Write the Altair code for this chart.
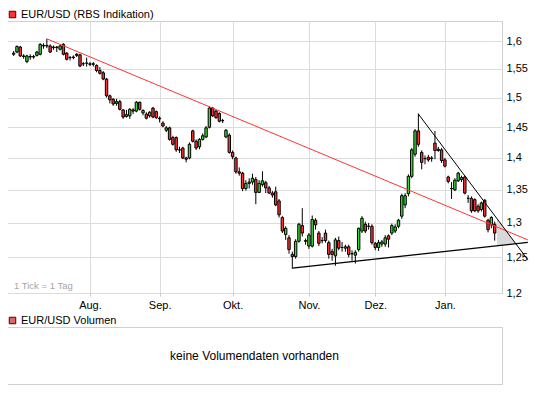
import json
import altair as alt
import pandas as pd

# ---------------- data ----------------
# one candle per trading day, index 0 = 1 July 2008 ... 145 = 23 Jan 2009
OPEN = [1.576, 1.580, 1.589, 1.573, 1.563, 1.572, 1.571, 1.574, 1.576, 1.591,
        1.591, 1.591, 1.588, 1.589, 1.585, 1.594, 1.578, 1.570, 1.570, 1.576,
        1.575, 1.559, 1.560, 1.559, 1.558, 1.556, 1.547, 1.543, 1.532, 1.503,
        1.497, 1.490, 1.493, 1.479, 1.468, 1.469, 1.479, 1.477, 1.492, 1.474,
        1.472, 1.469, 1.482, 1.476, 1.465, 1.457, 1.445, 1.449, 1.433, 1.433,
        1.413, 1.416, 1.400, 1.400, 1.444, 1.427, 1.418, 1.430, 1.434, 1.450,
        1.482, 1.477, 1.473, 1.461, 1.434, 1.437, 1.409, 1.400, 1.378, 1.376,
        1.352, 1.360, 1.362, 1.366, 1.346, 1.358, 1.361, 1.353, 1.345, 1.347,
        1.333, 1.308, 1.283, 1.278, 1.254, 1.251, 1.273, 1.296, 1.274, 1.266,
        1.266, 1.304, 1.285, 1.274, 1.285, 1.271, 1.258, 1.252, 1.274, 1.264,
        1.263, 1.265, 1.255, 1.253, 1.261, 1.288, 1.298, 1.295, 1.295, 1.270,
        1.264, 1.269, 1.269, 1.281, 1.285, 1.288, 1.295, 1.310, 1.327, 1.344,
        1.371, 1.406, 1.444, 1.409, 1.399, 1.401, 1.399, 1.424, 1.414, 1.413,
        1.397, 1.370, 1.352, 1.350, 1.364, 1.366, 1.370, 1.337, 1.337, 1.335,
        1.325, 1.320, 1.334, 1.304, 1.297, 1.298]
HIGH = [1.582, 1.592, 1.591, 1.576, 1.575, 1.576, 1.575, 1.582, 1.596, 1.596,
        1.604, 1.594, 1.592, 1.591, 1.593, 1.596, 1.580, 1.573, 1.574, 1.578,
        1.577, 1.562, 1.570, 1.562, 1.562, 1.558, 1.553, 1.546, 1.534, 1.505,
        1.499, 1.498, 1.496, 1.480, 1.479, 1.482, 1.482, 1.494, 1.493, 1.480,
        1.475, 1.477, 1.484, 1.478, 1.468, 1.460, 1.452, 1.451, 1.436, 1.435,
        1.418, 1.418, 1.402, 1.425, 1.446, 1.430, 1.432, 1.440, 1.452, 1.485,
        1.484, 1.479, 1.475, 1.464, 1.447, 1.440, 1.412, 1.402, 1.385, 1.378,
        1.365, 1.368, 1.375, 1.370, 1.365, 1.379, 1.364, 1.356, 1.348, 1.355,
        1.336, 1.310, 1.295, 1.282, 1.258, 1.276, 1.300, 1.322, 1.277, 1.285,
        1.311, 1.307, 1.288, 1.279, 1.290, 1.274, 1.262, 1.278, 1.280, 1.272,
        1.268, 1.268, 1.260, 1.260, 1.293, 1.310, 1.302, 1.300, 1.298, 1.272,
        1.275, 1.275, 1.282, 1.283, 1.299, 1.298, 1.306, 1.344, 1.345, 1.374,
        1.416, 1.447, 1.473, 1.412, 1.404, 1.405, 1.403, 1.444, 1.418, 1.416,
        1.400, 1.372, 1.362, 1.368, 1.378, 1.372, 1.372, 1.342, 1.340, 1.337,
        1.328, 1.332, 1.336, 1.306, 1.310, 1.302]
LOW = [1.573, 1.578, 1.571, 1.568, 1.560, 1.566, 1.568, 1.572, 1.574, 1.586,
       1.587, 1.578, 1.584, 1.580, 1.583, 1.574, 1.565, 1.565, 1.567, 1.571,
       1.553, 1.555, 1.554, 1.555, 1.554, 1.544, 1.540, 1.530, 1.500, 1.490,
       1.486, 1.486, 1.478, 1.464, 1.466, 1.464, 1.472, 1.475, 1.478, 1.470,
       1.463, 1.466, 1.465, 1.464, 1.458, 1.450, 1.442, 1.428, 1.420, 1.410,
       1.408, 1.398, 1.393, 1.398, 1.425, 1.413, 1.414, 1.428, 1.432, 1.448,
       1.467, 1.464, 1.458, 1.457, 1.432, 1.407, 1.398, 1.375, 1.372, 1.348,
       1.349, 1.352, 1.358, 1.328, 1.345, 1.355, 1.345, 1.344, 1.338, 1.325,
       1.308, 1.285, 1.275, 1.255, 1.234, 1.248, 1.271, 1.280, 1.268, 1.262,
       1.264, 1.290, 1.266, 1.270, 1.271, 1.248, 1.245, 1.238, 1.260, 1.258,
       1.258, 1.250, 1.245, 1.241, 1.258, 1.285, 1.285, 1.290, 1.268, 1.260,
       1.259, 1.265, 1.265, 1.264, 1.282, 1.285, 1.292, 1.306, 1.322, 1.340,
       1.368, 1.402, 1.418, 1.382, 1.390, 1.394, 1.394, 1.398, 1.410, 1.392,
       1.385, 1.360, 1.336, 1.348, 1.362, 1.362, 1.343, 1.330, 1.315, 1.316,
       1.315, 1.317, 1.308, 1.286, 1.292, 1.274]
CLOSE = [1.578, 1.590, 1.573, 1.572, 1.573, 1.571, 1.572, 1.580, 1.594, 1.592,
         1.592, 1.580, 1.589, 1.588, 1.591, 1.576, 1.567, 1.570, 1.571, 1.574,
         1.555, 1.559, 1.560, 1.558, 1.559, 1.547, 1.542, 1.532, 1.503, 1.496,
         1.489, 1.493, 1.480, 1.467, 1.471, 1.480, 1.477, 1.492, 1.480, 1.478,
         1.465, 1.475, 1.467, 1.466, 1.464, 1.452, 1.449, 1.430, 1.422, 1.413,
         1.413, 1.400, 1.398, 1.422, 1.427, 1.416, 1.430, 1.436, 1.449, 1.482,
         1.469, 1.466, 1.460, 1.461, 1.445, 1.409, 1.402, 1.378, 1.376, 1.352,
         1.360, 1.362, 1.368, 1.346, 1.360, 1.364, 1.353, 1.345, 1.342, 1.327,
         1.312, 1.288, 1.292, 1.261, 1.251, 1.273, 1.298, 1.285, 1.273, 1.282,
         1.305, 1.297, 1.270, 1.274, 1.274, 1.254, 1.254, 1.275, 1.263, 1.264,
         1.265, 1.254, 1.255, 1.257, 1.292, 1.307, 1.288, 1.295, 1.271, 1.264,
         1.271, 1.272, 1.278, 1.276, 1.296, 1.294, 1.304, 1.341, 1.341, 1.371,
         1.413, 1.444, 1.422, 1.393, 1.399, 1.397, 1.400, 1.412, 1.412, 1.396,
         1.387, 1.363, 1.352, 1.365, 1.376, 1.369, 1.345, 1.337, 1.318, 1.318,
         1.318, 1.330, 1.310, 1.290, 1.308, 1.285]

MONTH_TICKS = [23, 44, 66, 89, 109, 130]
MONTH_LABELS = ["Aug.", "Sep.", "Okt.", "Nov.", "Dez.", "Jan."]
PRICE_TICKS = [1.2, 1.25, 1.3, 1.35, 1.4, 1.45, 1.5, 1.55, 1.6]

# trend lines (day index, price), read where they leave the picture
RED_X, RED_Y = [10, 155], [1.604, 1.275]
STEEP_X, STEEP_Y = [122, 155], [1.472, 1.2464]
SUPPORT_X, SUPPORT_Y = [84, 155], [1.2345, 1.2714]
WEDGE_X, WEDGE_TOP, WEDGE_BOTTOM = [145.7, 151.4], [1.3063, 1.2696], [1.2666, 1.2696]

TITLE = "EUR/USD (RBS Indikation)"
VOL_TITLE = "EUR/USD Volumen"
VOL_MSG = "keine Volumendaten vorhanden"
NOTE = "1 Tick = 1 Tag"

# ---------------- styling ----------------
FONT = "Liberation Sans"
UP, DOWN = "#33dd33", "#ff3333"
GRID = "#dcdcdc"
W, H = 495, 272
X_DOMAIN = [-0.5, 145.7]
Y_DOMAIN = [1.2, 1.637]

candles = pd.DataFrame({"i": list(range(len(OPEN))), "open": OPEN, "high": HIGH,
                        "low": LOW, "close": CLOSE})

x_scale = alt.Scale(domain=X_DOMAIN, nice=False, zero=False)
y_scale = alt.Scale(type="log", domain=Y_DOMAIN, nice=False)

x_axis = alt.Axis(
    values=MONTH_TICKS,
    labelExpr=f"{json.dumps(MONTH_LABELS)}[indexof({json.dumps(MONTH_TICKS)}, datum.value)]",
    grid=True, gridColor=GRID, domain=False, ticks=True, tickSize=3, tickColor="#c8c8c8",
    labelFont=FONT, labelFontSize=11, labelColor="#000000", labelPadding=3,
    labelOverlap=False, title=None)
y_axis = alt.Axis(
    orient="right", values=PRICE_TICKS,
    labelExpr="replace(format(datum.value, '.2~f'), '.', ',')",
    grid=True, gridColor=GRID, domain=False, ticks=False, labelPadding=4,
    labelFont=FONT, labelFontSize=11, labelColor="#000000", labelOverlap=False, title=None)


def xe(field):
    return alt.X(f"{field}:Q", scale=x_scale, axis=x_axis)


def ye(field):
    return alt.Y(f"{field}:Q", scale=y_scale, axis=y_axis)


def legend(x_off, y_off):
    return alt.Legend(title=None, orient="none", legendX=x_off, legendY=y_off,
                      symbolType="square", symbolSize=42, symbolStrokeColor="#4a0000",
                      symbolStrokeWidth=1, labelFont=FONT, labelFontSize=11,
                      labelColor="#000000", labelOffset=3, padding=0)


wedge = alt.Chart(pd.DataFrame({"i": WEDGE_X, "top": WEDGE_TOP, "bot": WEDGE_BOTTOM})).mark_area(
    color="#d9d9d9", opacity=1).encode(x=xe("i"), y=ye("top"), y2="bot")

wicks = alt.Chart(candles).mark_rule(color="black", strokeWidth=1).encode(
    x=xe("i"), y=ye("low"), y2="high")

bodies = alt.Chart(candles).mark_bar(size=2.4, stroke="black", strokeWidth=1).encode(
    x=xe("i"), y=ye("open"), y2="close",
    fill=alt.condition("datum.close >= datum.open", alt.value(UP), alt.value(DOWN)))


def seg(xs, ys, color, width):
    return alt.Chart(pd.DataFrame({"i": xs, "v": ys})).mark_line(
        color=color, strokeWidth=width).encode(x=xe("i"), y=ye("v"))


red_line = seg(RED_X, RED_Y, "#ff3333", 1)
steep_line = seg(STEEP_X, STEEP_Y, "#000000", 1)
support_line = seg(SUPPORT_X, SUPPORT_Y, "#000000", 1.3)

note = alt.Chart(pd.DataFrame({"t": [NOTE]})).mark_text(
    align="left", baseline="alphabetic", font=FONT, fontSize=9.5, color="#a5a5a5").encode(
    x=alt.value(7), y=alt.value(H - 4), text="t:N")

title_swatch = alt.Chart(pd.DataFrame({"i": [-50], "v": [1.4], "name": [TITLE]})).mark_point(
    shape="square", filled=True, clip=True, stroke="#4a0000", strokeWidth=1, opacity=1).encode(
    x=xe("i"), y=ye("v"),
    color=alt.Color("name:N", scale=alt.Scale(range=["#ff3333"]), legend=legend(0, -12)))

main = alt.layer(wedge, wicks, bodies, red_line, steep_line, support_line, note,
                 title_swatch).properties(width=W, height=H)

unit = alt.Scale(domain=[0, 1], nice=False, zero=False)
vol_text = alt.Chart(pd.DataFrame({"x": [0.5], "y": [0.5], "t": [VOL_MSG]})).mark_text(
    font=FONT, fontSize=12, color="#000000").encode(
    x=alt.X("x:Q", scale=unit, axis=None), y=alt.Y("y:Q", scale=unit, axis=None), text="t:N")
vol_swatch = alt.Chart(pd.DataFrame({"x": [-5], "y": [0.5], "name": [VOL_TITLE]})).mark_point(
    shape="square", filled=True, clip=True, stroke="#4a0000", strokeWidth=1, opacity=1).encode(
    x=alt.X("x:Q", scale=unit, axis=None), y=alt.Y("y:Q", scale=unit, axis=None),
    color=alt.Color("name:N", scale=alt.Scale(range=["#e06666"]), legend=legend(0, -12)))
volume = alt.layer(vol_text, vol_swatch).properties(width=W, height=57)

chart = alt.vconcat(main, volume, spacing=3).resolve_scale(color="independent").properties(
    padding={"left": -2, "top": 0, "right": 0, "bottom": 0}).configure_view(
    stroke="#cfcfcf", strokeWidth=1)

chart.save("out.html", embed_options={"renderer": "svg", "actions": False})
